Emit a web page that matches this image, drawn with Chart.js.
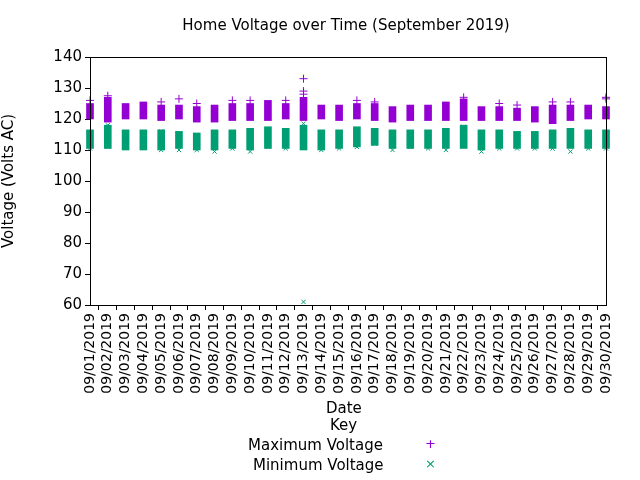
<!DOCTYPE html>
<html><head><meta charset="utf-8">
<script src="https://cdn.jsdelivr.net/npm/chart.js@4"></script>
<style>
body{margin:0;background:#fff;font-family:"DejaVu Sans",sans-serif;}
#wrap{position:relative;width:640px;height:480px;}
.t{position:absolute;font-size:15px;color:#000;white-space:nowrap;}
</style></head><body>
<div id="wrap">
<canvas id="c" width="640" height="480"></canvas>
<div class="t" style="left:0;width:692px;text-align:center;top:16px;">Home Voltage over Time (September 2019)</div>
<div class="t" style="left:326px;top:399px;">Date</div>
<div class="t" style="left:330px;top:416px;">Key</div>
<div class="t" style="left:248px;top:436px;">Maximum Voltage</div>
<div class="t" style="left:253px;top:456px;">Minimum Voltage</div>
<div class="t" style="left:425px;top:436px;color:#9400d3;font-size:13px;">+</div>
<div class="t" style="left:425px;top:456px;color:#009e73;font-size:13px;">×</div>
</div>
<script>
const days = [];
for (let d = 1; d <= 30; d++) days.push('09/' + String(d).padStart(2, '0') + '/2019');

// daily max-voltage band (top, bottom) and outlier readings
const maxTop = [125,127,125,125.5,124.5,124.5,124,124.5,125,125,126,125,127,124.5,124.5,125,125,124,124.5,124.5,125.5,126.5,124,124,123.5,124,124.5,124.5,124.5,124];
const maxBot = [120,119,120,120,119.5,120,119,119,119.5,119.5,119.5,120,119.5,120,119.5,120,119.5,119,119.5,119.5,119.5,119.5,119.5,119.5,119.5,119,118.5,119.5,120,120];
const maxPeaks = [[0,126],[1,127.5],[4,125.5],[5,126.5],[6,125],[8,126],[9,126],[11,126],[12,133],[12,129],[12,128],[15,126],[16,125.5],[21,127],[23,125],[24,124.5],[26,125.5],[27,125.5],[29,127],[29,126.5]];
// daily min-voltage band (top, bottom) and lowest readings
const minTop = [116.5,118,116.5,116.5,116.5,116,115.5,116.5,116.5,117,117.5,117,118,116.5,116.5,117.5,117,116.5,116.5,116.5,117,118,116.5,116.5,116,116,116.5,117,116.5,116.5];
const minBot = [110.5,110.5,110,110,110,110.5,110,110,110.5,110,110.5,110.5,110,110,110.5,111,111.5,110.5,110.5,110.5,110.5,110.5,110,110.5,110.5,110.5,110.5,110.5,110.5,110.5];
const minLows = [[0,110.5],[1,118],[1,111],[3,111],[4,110],[4,116],[5,110],[6,110],[7,109.5],[8,110.5],[9,109.5],[10,111],[11,110.5],[12,118.5],[12,61],[13,110],[14,110.5],[15,111],[16,112],[17,110],[18,111],[19,110.5],[20,110],[21,117.5],[22,109.5],[23,110.5],[24,110.5],[25,110.5],[26,110.5],[27,109.5],[28,110.5],[29,110.5]];

const purple = '#9400d3', green = '#009e73';
const band = (t, b) => t.map((v, i) => ({x: i, y: [b[i], v]}));
const pts = a => a.map(p => ({x: p[0], y: p[1]}));

const box = {
  id: 'box',
  afterDraw(ch) {
    const a = ch.chartArea, g = ch.ctx;
    g.save(); g.strokeStyle = '#000'; g.lineWidth = 1;
    g.strokeRect(a.left + .5, a.top + .5, a.right - a.left, a.bottom - a.top);
    g.restore();
  }
};

new Chart(document.getElementById('c'), {
  data: {
    datasets: [
      {type: 'bar', data: band(maxTop, maxBot), backgroundColor: purple, barThickness: 7, grouped: false},
      {type: 'bar', data: band(minTop, minBot), backgroundColor: green, barThickness: 7, grouped: false},
      {type: 'scatter', data: pts(maxPeaks), pointStyle: 'cross', radius: 4, borderColor: purple, borderWidth: 1},
      {type: 'scatter', data: pts(minLows), pointStyle: 'crossRot', radius: 3, borderColor: green, borderWidth: 1}
    ]
  },
  options: {
    animation: false,
    responsive: false,
    clip: false,
    layout: {padding: {top: 57, right: 34, bottom: 80, left: 0}},
    plugins: {legend: {display: false}, tooltip: {enabled: false}},
    scales: {
      x: {
        type: 'linear', min: 0, max: 29, offset: false,
        grid: {drawOnChartArea: false, tickLength: 5, color: '#000'},
        border: {color: '#000'},
        ticks: {stepSize: 1, autoSkip: false, maxRotation: 90, minRotation: 90, color: '#000',
          font: {family: 'DejaVu Sans', size: 14}, callback: v => days[v]},
        afterFit: s => { s.height = 95; }
      },
      y: {
        min: 60, max: 140,
        grid: {drawOnChartArea: false, tickLength: 5, color: '#000'},
        border: {color: '#000'},
        ticks: {stepSize: 10, color: '#000', font: {family: 'DejaVu Sans', size: 15}},
        title: {display: true, text: 'Voltage (Volts AC)', color: '#000', padding: {top: 0, bottom: 10},
          font: {family: 'DejaVu Sans', size: 15}},
        afterFit: s => { s.width = 90; }
      }
    }
  },
  plugins: [box]
});
</script>
</body></html>
